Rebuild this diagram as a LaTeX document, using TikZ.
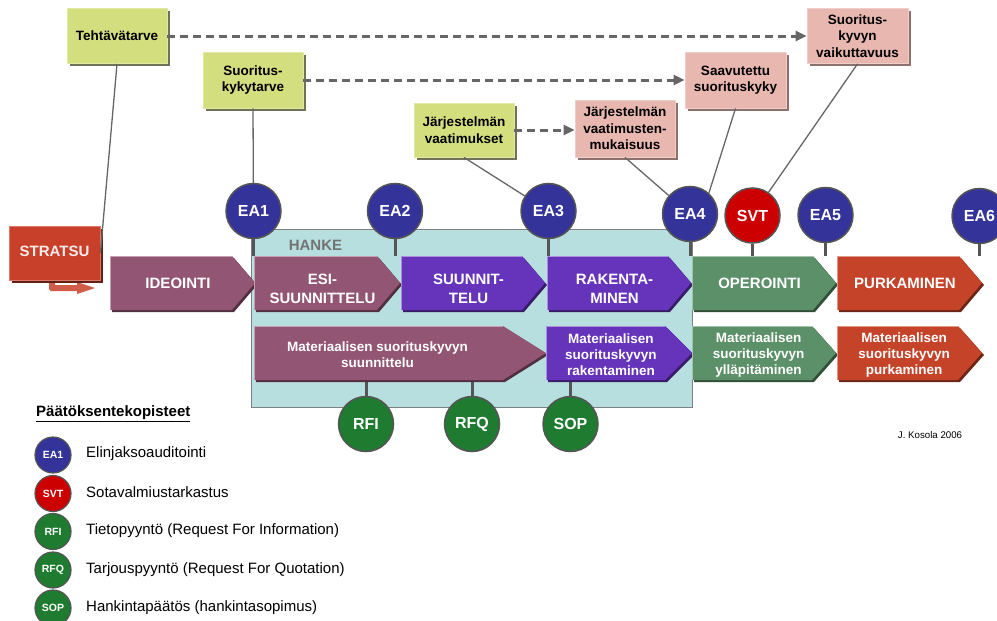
\documentclass[tikz,border=0pt]{standalone}
\usepackage{fontspec}
\setmainfont{Liberation Sans}
\usetikzlibrary{arrows.meta,shadows}

\definecolor{boxgreen}{HTML}{D3DE7E}
\definecolor{boxgreenshadow}{HTML}{6F7255}
\definecolor{boxpink}{HTML}{E8B8B0}
\definecolor{boxpinkshadow}{HTML}{8C716C}
\definecolor{stratred}{HTML}{C8402A}
\definecolor{mauve}{HTML}{935574}
\definecolor{phaseviolet}{HTML}{6633BB}
\definecolor{phasegreen}{HTML}{5B9068}
\definecolor{phasered}{HTML}{C44329}
\definecolor{hankefill}{HTML}{B8DFE0}
\definecolor{eablue}{HTML}{333399}
\definecolor{svtred}{HTML}{CC0000}
\definecolor{decgreen}{HTML}{1E7B30}
\definecolor{linegray}{HTML}{666666}
\definecolor{stemgray}{HTML}{555555}

% one phase arrow: name, left, top, width, tip length, colour, text, text style
\newcommand\phasechevron[8]{%
  \pgfmathsetmacro\pcvL{#2}%
  \pgfmathsetmacro\pcvT{#3}%
  \pgfmathsetmacro\pcvR{#2+#4}%
  \pgfmathsetmacro\pcvC{#2+#4-#5}%
  \pgfmathsetmacro\pcvB{#3+54}%
  \pgfmathsetmacro\pcvM{#3+27}%
  \pgfmathsetmacro\pcvX{#2+(#4-#5)/2+7-(#5-23)*0.4}%
  \fill[#6!55!black] (\pcvL+2,\pcvT+2) -- (\pcvC+2,\pcvT+2) -- (\pcvR+2,\pcvM+2)
        -- (\pcvC+2,\pcvB+2) -- (\pcvL+2,\pcvB+2) -- cycle;
  \fill[#6] (\pcvL,\pcvT) -- (\pcvC,\pcvT) -- (\pcvR,\pcvM) -- (\pcvC,\pcvB)
        -- (\pcvL,\pcvB) -- cycle;
  \draw[#6!55!white, line width=1] (\pcvL+0.5,\pcvB) -- (\pcvL+0.5,\pcvT+0.5) -- (\pcvC,\pcvT+0.5);
  \node[#8] (#1) at (\pcvX,\pcvM) {#7};
}

\begin{document}
\begin{tikzpicture}[x=1pt,y=-1pt,
  reqbox/.style={fill=#1, draw=#1!70!white, line width=0.8,
    minimum width=100, minimum height=55, inner sep=0, align=center,
    font=\fontsize{13.5}{16.5}\selectfont\bfseries,
    drop shadow={shadow xshift=2.5pt, shadow yshift=-2.5pt, opacity=1, fill=#1shadow}},
  dasharrow/.style={linegray, line width=3, dash pattern=on 8pt off 5pt,
    -{Triangle[length=11pt,width=10pt]}},
  link/.style={linegray, line width=1.3},
  stem/.style={stemgray, line width=3},
  gate/.style={circle, fill=#1, draw=stemgray, line width=1.5, minimum size=55,
    inner sep=0, text=white, font=\fontsize{16}{18}\selectfont\bfseries},
  leggate/.style={circle, fill=#1, draw=stemgray, line width=1.2, minimum size=36,
    inner sep=0, text=white, font=\fontsize{10.5}{12}\selectfont\bfseries},
  headtext/.style={text=white, align=center, inner sep=0,
    font=\fontsize{15}{19}\selectfont\bfseries},
  subtext/.style={text=white, align=center, inner sep=0, yshift=-2,
    font=\fontsize{13.5}{16}\selectfont\bfseries},
  legtext/.style={anchor=west, inner sep=0, font=\fontsize{15}{18}\selectfont}
]
\useasboundingbox (0,0) rectangle (997,621);

% project frame
\fill[hankefill] (251,229) rectangle (692,407);
\draw[gray, line width=1] (251,229) rectangle (692,407);
\node[text=gray!90!black, font=\fontsize{15}{18}\selectfont\bfseries] (hanke) at (315.5,245) {HANKE};

% requirement and outcome boxes
\node[reqbox=boxgreen] (tehtava) at (117,36) {Tehtävätarve};
\node[reqbox=boxgreen, minimum height=56] (suor) at (253,80) {Suoritus-\\kykytarve};
\node[reqbox=boxgreen, minimum height=54] (jv) at (464,130) {Järjestelmän\\vaatimukset};
\node[reqbox=boxpink, minimum height=57] (vm) at (625,128.5) {Järjestelmän\\vaatimusten-\\mukaisuus};
\node[reqbox=boxpink, minimum height=56, minimum width=101] (sv) at (735.5,80) {Saavutettu\\suorituskyky};
\node[reqbox=boxpink, minimum width=101] (vk) at (857.5,36) {Suoritus-\\kyvyn\\vaikuttavuus};

% strategy box and its bent arrow
\fill[stratred!85!white] (49,281) -- (55,281) -- (55,285) -- (77,285) -- (77,282)
     -- (95,288) -- (77,294) -- (77,291) -- (51,291) -- (49,289) -- cycle;
\node[fill=stratred, draw=stratred!70!white, line width=0.8, minimum width=91,
      minimum height=54, inner sep=0, text=white!90!stratred,
      font=\fontsize{15}{18}\selectfont\bfseries,
      drop shadow={shadow xshift=2.5pt, shadow yshift=-2.5pt, opacity=1, fill=stratred!50!black}]
      (stratsu) at (54.5,253) {\raisebox{3pt}{STRATSU}};

% decision gates above the phases
\node[gate=eablue] (ea1) at (253.5,211) {EA1};
\node[gate=eablue] (ea2) at (395,211) {EA2};
\node[gate=eablue] (ea3) at (548.5,211) {EA3};
\node[gate=eablue] (ea4) at (690,214) {EA4};
\node[gate=svtred] (svt) at (752.5,215.5) {SVT};
\node[gate=eablue] (ea5) at (825.5,215) {EA5};
\node[gate=eablue] (ea6) at (979.5,216) {EA6};

% decision gates below the phases
\node[gate=decgreen] (rfi) at (366,424) {RFI};
\node[gate=decgreen] (rfq) at (472,424) {RFQ};
\node[gate=decgreen] (sop) at (570.5,424) {SOP};

\coordinate (rowtop) at (0,256);
\coordinate (rowbottom) at (0,380);
\foreach \g in {ea1,ea2,ea3,ea4,svt,ea5,ea6}
  \draw[stem] (\g.south) -- (\g.south |- rowtop);
\foreach \g in {rfi,rfq,sop}
  \draw[stem] (\g.north) -- (\g.north |- rowbottom);

% connectors between boxes and gates
\draw[link] (tehtava.south) -- (stratsu.east);
\draw[link] (suor.south) -- (ea1);
\draw[link] (jv.south) -- (ea3);
\draw[link] (vm.south) -- (ea4);
\draw[link] (sv.south) -- (ea4.48);
\draw[link] (vk.south) -- (svt);

\draw[dasharrow] (tehtava.east) -- (vk.west);
\draw[dasharrow] (suor.east) -- (sv.west);
\draw[dasharrow] (jv.east) -- (jv.east -| vm.west);

% life-cycle phases
\phasechevron{ideo}{110}{256}{145}{23}{mauve}{IDEOINTI}{headtext}
\phasechevron{esi}{254}{256}{146}{23}{mauve}{ESI-\\SUUNNITTELU}{headtext, yshift=-6}
\phasechevron{suun}{401}{256}{144}{23}{phaseviolet}{SUUNNIT-\\TELU}{headtext, yshift=-6}
\phasechevron{rak}{547}{256}{144}{23}{phaseviolet}{RAKENTA-\\MINEN}{headtext, yshift=-6}
\phasechevron{oper}{692}{256}{144}{23}{phasegreen}{OPEROINTI}{headtext}
\phasechevron{purk}{837}{256}{145}{23}{phasered}{PURKAMINEN}{headtext}

\phasechevron{msuun}{254}{326}{292}{43}{mauve}{Materiaalisen suorituskyvyn\\suunnittelu}{subtext}
\phasechevron{mrak}{546}{326}{146}{27}{phaseviolet}{Materiaalisen\\suorituskyvyn\\rakentaminen}{subtext}
\phasechevron{myll}{692}{326}{144}{24}{phasegreen}{Materiaalisen\\suorituskyvyn\\ylläpitäminen}{subtext}
\phasechevron{mpurk}{837}{326}{145}{24}{phasered}{Materiaalisen\\suorituskyvyn\\purkaminen}{subtext}

% legend
\node[anchor=west, inner sep=0, font=\fontsize{15}{18}\selectfont\bfseries] (legtitle) at (36,414) {\underline{Päätöksentekopisteet}};
\node[leggate=eablue] (lea) at (53,455) {EA1};
\node[leggate=svtred] (lsvt) at (53,493.5) {SVT};
\node[leggate=decgreen] (lrfi) at (53,531.5) {RFI};
\node[leggate=decgreen] (lrfq) at (53,570) {RFQ};
\node[leggate=decgreen] (lsop) at (53,608) {SOP};
\node[legtext] (tea) at (86,454) {Elinjaksoauditointi};
\node[legtext] (tsvt) at (86,492.5) {Sotavalmiustarkastus};
\node[legtext] (trfi) at (86,531) {Tietopyyntö (Request For Information)};
\node[legtext] (trfq) at (86,569.5) {Tarjouspyyntö (Request For Quotation)};
\node[legtext] (tsop) at (86,608) {Hankintapäätös (hankintasopimus)};

\node[inner sep=0, font=\fontsize{9.7}{11}\selectfont] (author) at (930,435) {J. Kosola 2006};
\end{tikzpicture}
\end{document}
